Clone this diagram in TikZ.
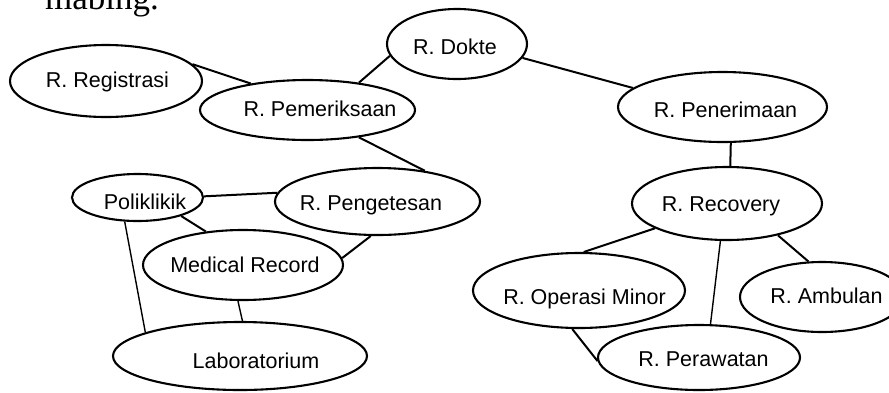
\documentclass[tikz,border=0pt]{standalone}
\usepackage{fontspec}
\setmainfont{Liberation Sans}
\newfontfamily\headserif{Liberation Serif}
\usetikzlibrary{shapes.geometric}
\begin{document}
\begin{tikzpicture}[x=1pt,y=-1pt,
  room/.style={ellipse, draw, line width=2.1pt, inner sep=0pt},
  tag/.style={anchor=base, inner sep=0pt, font=\fontsize{21.5}{24}\selectfont},
  link/.style={line width=2pt},
  thinlink/.style={line width=1.4pt}]
\useasboundingbox (0,0) rectangle (889,392);
\clip (0,0) rectangle (889,392);

% last line of the running text above the figure
\node[anchor=base west, inner sep=0pt, font=\headserif\fontsize{35}{40}\selectfont] (head) at (45,9) {mabing.};

% rooms
\node[room, minimum width=192pt, minimum height=72pt] (reg)  at (106,81) {};
\node[room, minimum width=215pt, minimum height=60pt] (pem)  at (307.5,110) {};
\node[room, minimum width=140pt, minimum height=70pt] (dok)  at (457,44) {};
\node[room, minimum width=209pt, minimum height=70pt] (pen)  at (722.5,107) {};
\node[room, minimum width=190pt, minimum height=73pt] (rec)  at (727,203.5) {};
\node[room, minimum width=212pt, minimum height=75pt] (ops)  at (579,290.5) {};
\node[room, minimum width=164pt, minimum height=70pt] (amb)  at (822,297) {};
\node[room, minimum width=202pt, minimum height=65pt] (per)  at (699,357.5) {};
\node[room, minimum width=131pt, minimum height=47pt] (pol)  at (137.5,197.5) {};
\node[room, minimum width=205pt, minimum height=67pt] (peng) at (377.5,201.5) {};
\node[room, minimum width=200pt, minimum height=70pt] (med)  at (243,265) {};
\node[room, minimum width=254pt, minimum height=68pt] (lab)  at (240,356) {};

% room names
\node[tag] (reg-t)  at (107.5,87)  {R. Registrasi};
\node[tag] (pem-t)  at (320,116)   {R. Pemeriksaan};
\node[tag] (dok-t)  at (455,54)    {R. Dokte};
\node[tag] (pen-t)  at (725.5,117) {R. Penerimaan};
\node[tag] (rec-t)  at (721,211)   {R. Recovery};
\node[tag] (ops-t)  at (584.5,304) {R. Operasi Minor};
\node[tag] (amb-t)  at (826.5,303) {R. Ambulan};
\node[tag] (per-t)  at (703.5,366) {R. Perawatan};
\node[tag] (pol-t)  at (145,209)   {Poliklikik};
\node[tag] (peng-t) at (371,210)   {R. Pengetesan};
\node[tag] (med-t)  at (245,272)   {Medical Record};
\node[tag] (lab-t)  at (256,368)   {Laboratorium};

% connections
\draw[link] (reg.11)     -- (pem.155.6);
\draw[link] (dok.190)    -- (pem.28.9);
\draw[link] (dok.-12)    -- (pen.168.8);
\draw[link] (pem.-28.4)  -- (peng.33.8);
\draw[link] (pen.-77.9)  -- (rec.85.3);
\draw[link] (pol.1.7)    -- (peng.175.2);
\draw[link] (pol.-23.7)  -- (med.138);
\draw[link] (peng.-101.6) -- (med.4.6);
\draw[thinlink] (pol.-118.5) -- (lab.166.8);
\draw[thinlink] (med.-98.6)  -- (lab.86.5);
\draw[link] (rec.199.3)  -- (ops.83.9);
\draw[thinlink] (rec.-100.9) -- (per.71.8);
\draw[link] (rec.-32.3)  -- (amb.111.8);
\draw[link] (ops.-100)   -- (per.182.6);
\end{tikzpicture}
\end{document}
